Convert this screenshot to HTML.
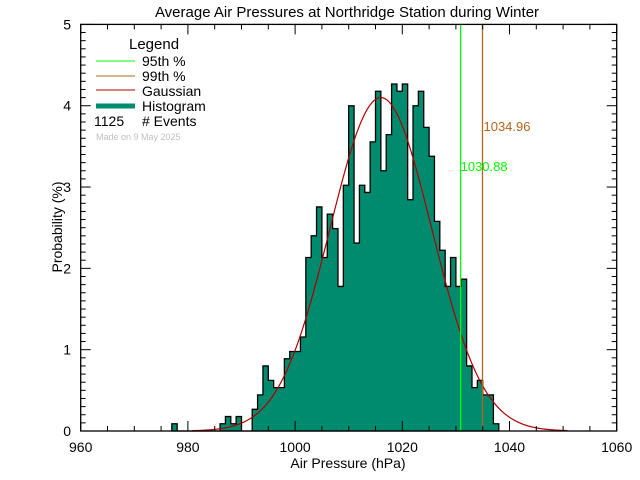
<!DOCTYPE html>
<html><head><meta charset="utf-8"><style>
body{margin:0;background:#fff;}
svg{display:block;font-family:"Liberation Sans","DejaVu Sans",sans-serif;}
</style></head><body>
<svg id="chart" width="640" height="480" viewBox="0 0 640 480">
<rect x="0" y="0" width="640" height="480" fill="#fff"/>
<text x="347" y="17" font-size="15" text-anchor="middle">Average Air Pressures at Northridge Station during Winter</text>
<text x="348" y="468" font-size="14" text-anchor="middle">Air Pressure (hPa)</text>
<text x="62" y="227" font-size="14" text-anchor="middle" transform="rotate(-90 62 227)">Probability (%)</text>
<g id="plot"></g>
<g>
<text x="129" y="49" font-size="15">Legend</text>
<line x1="96" y1="61" x2="135" y2="61" stroke="#00ff00"/>
<text x="142" y="66" font-size="14">95th %</text>
<line x1="96" y1="76" x2="135" y2="76" stroke="#b5651d"/>
<text x="142" y="81" font-size="14">99th %</text>
<line x1="96" y1="90" x2="135" y2="90" stroke="#b00000"/>
<text x="142" y="96" font-size="14">Gaussian</text>
<line x1="96" y1="106" x2="135" y2="106" stroke="#008a6e" stroke-width="5"/>
<text x="142" y="111" font-size="14">Histogram</text>
<text x="94" y="126" font-size="14">1125</text>
<text x="142" y="126" font-size="14"># Events</text>
<text x="96" y="140" font-size="9" fill="#c0c0c0">Made on 9 May 2025</text>
</g>
</svg>
<script>
const binStarts = [977,978,979,980,981,982,983,984,985,986,987,988,989,990,991,992,993,994,995,996,997,998,999,1000,1001,1002,1003,1004,1005,1006,1007,1008,1009,1010,1011,1012,1013,1014,1015,1016,1017,1018,1019,1020,1021,1022,1023,1024,1025,1026,1027,1028,1029,1030,1031,1032,1033,1034,1035,1036,1037];
const binCounts = [1,0,0,0,0,0,0,0,0,1,2,1,2,0,0,3,5,9,7,6,6,10,11,11,13,24,27,31,24,30,28,20,34,45,26,34,33,40,47,36,41,48,47,48,32,45,47,42,38,29,25,20,24,20,21,9,6,7,5,5,1];
const totalEvents = 1125;
const gaussMean = 1016.0;
const gaussSigma = 9.5;
const gaussPeak = 4.1;
const p95 = 1030.88;
const p99 = 1034.96;
const xTicks = [960,980,1000,1020,1040,1060];
const yTicks = [0,1,2,3,4,5];

const X0=80.7, X1=616.7, Y0=431, Y1=24.4;
const xs = v => X0 + (v-960)/100*(X1-X0);
const ys = v => Y0 - v/5*(Y0-Y1);
const NS='http://www.w3.org/2000/svg';
const g = document.getElementById('plot');
function mk(tag, attrs){const e=document.createElementNS(NS,tag);for(const k in attrs)e.setAttribute(k,attrs[k]);g.appendChild(e);return e;}

// histogram
let d = 'M'+xs(binStarts[0])+','+ys(0);
binStarts.forEach((b,i)=>{const p=binCounts[i]/totalEvents*100;d+=' L'+xs(b)+','+ys(p)+' L'+xs(b+1)+','+ys(p);});
d += ' L'+xs(binStarts[binStarts.length-1]+1)+','+ys(0)+' Z';
const hist = mk('path',{d:d,fill:'#008a6e',stroke:'#000','stroke-width':1.3});



// gaussian
let gd='';
for(let v=980.8; v<=1051; v+=0.25){const p=gaussPeak*Math.exp(-Math.pow(v-gaussMean,2)/(2*gaussSigma*gaussSigma));gd+=(gd?' L':'M')+xs(v).toFixed(2)+','+ys(p).toFixed(2);}
const gl = mk('path',{d:gd,fill:'none',stroke:'#b00000','stroke-width':1.2});



// percentile lines
const l95 = mk('line',{x1:xs(p95),x2:xs(p95),y1:Y1,y2:Y0,stroke:'#00ff00','stroke-width':1.3});


const l99 = mk('line',{x1:xs(p99),x2:xs(p99),y1:Y1,y2:Y0,stroke:'#b5651d','stroke-width':1.3});


const t95 = mk('text',{x:xs(p95),y:171,'font-size':13,fill:'#00ff00'});
t95.textContent=p95.toFixed(2);


const t99 = mk('text',{x:xs(p99)+1,y:131,'font-size':13,fill:'#b5651d'});
t99.textContent=p99.toFixed(2);



// frame
const fr = mk('rect',{x:X0,y:Y1,width:X1-X0,height:Y0-Y1,fill:'none',stroke:'#000','stroke-width':1.3});



// x ticks
for(let v=960; v<=1060; v+=5){
  const major = (v-960)%20===0; const len = major?10:5;
  const a=mk('line',{x1:xs(v),x2:xs(v),y1:Y0,y2:Y0-len,stroke:'#000'});
  
  
  const b=mk('line',{x1:xs(v),x2:xs(v),y1:Y1,y2:Y1+len,stroke:'#000'});
  
  
}
xTicks.forEach(v=>{const t=mk('text',{x:xs(v),y:452,'font-size':14,'text-anchor':'middle'});t.textContent=v;
  
  });
// y ticks
for(let i=0;i<=50;i++){
  const v=i/10; const major=i%10===0; const len=major?10:5;
  const a=mk('line',{x1:X0,x2:X0+len,y1:ys(v),y2:ys(v),stroke:'#000'});
  
  
  const b=mk('line',{x1:X1,x2:X1-len,y1:ys(v),y2:ys(v),stroke:'#000'});
  
  
}
yTicks.forEach(v=>{const t=mk('text',{x:71,y:ys(v)+5,'font-size':14,'text-anchor':'end'});t.textContent=v;
  
  });
</script>
</body></html>
